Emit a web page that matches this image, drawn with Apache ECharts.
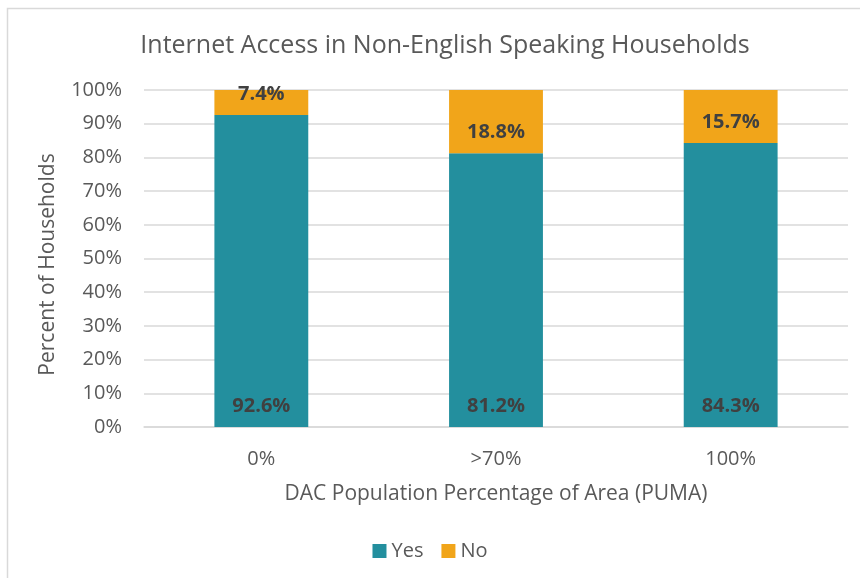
<!DOCTYPE html>
<html>
<head>
<meta charset="utf-8">
<script src="https://cdn.jsdelivr.net/npm/echarts@6/dist/echarts.min.js"></script>
<style>
  html, body { margin: 0; padding: 0; background: #fff; }
  #chart { width: 860px; height: 578px; }
</style>
</head>
<body>
<div id="chart"></div>
<script>
// data
const categories = ['0%', '>70%', '100%']
const yesValues = [92.6, 81.2, 84.3]
const noValues = [7.4, 18.8, 15.7]
const yTicks = [0, 10, 20, 30, 40, 50, 60, 70, 80, 90, 100]

const FONT = '"Open Sans", sans-serif'
const TEXT = '#595959'

const chart = echarts.init(document.getElementById('chart'), null, { renderer: 'canvas' })

const labelStyle = {
  show: true,
  position: 'insideBottom',
  distance: 11,
  fontFamily: FONT,
  fontSize: 20,
  fontWeight: 'bold',
  color: '#404040',
  formatter: p => p.value.toFixed(1) + '%'
}

const option = {
  backgroundColor: '#fff',
  animation: false,
  graphic: [{
    // chart frame, only top + left edges are visible in the original
    type: 'rect',
    shape: { x: 7.5, y: 8.5, width: 900, height: 620 },
    style: { fill: 'none', stroke: '#d9d9d9', lineWidth: 1.5 },
    silent: true
  }],
  title: {
    text: 'Internet Access in Non-English Speaking Households',
    left: 440,
    textAlign: 'center',
    top: 28,
    textStyle: { fontFamily: FONT, fontSize: 25, fontWeight: 'normal', color: TEXT }
  },
  legend: {
    bottom: 12,
    left: 'center',
    itemWidth: 14,
    itemHeight: 14,
    itemGap: 18,
    icon: 'rect',
    textStyle: { fontFamily: FONT, fontSize: 20, color: TEXT },
    data: ['Yes', 'No']
  },
  grid: { left: 144, right: 12, top: 90, bottom: 151, containLabel: false },
  xAxis: {
    type: 'category',
    data: categories,
    name: 'DAC Population Percentage of Area (PUMA)',
    nameLocation: 'middle',
    nameGap: 57,
    nameTextStyle: { fontFamily: FONT, fontSize: 21, color: TEXT },
    axisLine: { show: true, lineStyle: { color: '#d9d9d9', width: 1.5 } },
    axisTick: { show: false },
    axisLabel: { fontFamily: FONT, fontSize: 20, color: TEXT, margin: 22 }
  },
  yAxis: {
    type: 'value',
    min: 0,
    max: 100,
    interval: 10,
    name: 'Percent of Households',
    nameLocation: 'middle',
    nameGap: 85,
    nameTextStyle: { fontFamily: FONT, fontSize: 21, color: TEXT, padding: [0, 12, 0, 0] },
    axisLine: { show: false },
    axisTick: { show: false },
    axisLabel: {
      fontFamily: FONT, fontSize: 20, color: TEXT, margin: 22,
      formatter: v => yTicks.includes(v) ? v + '%' : ''
    },
    splitLine: { lineStyle: { color: '#d9d9d9', width: 1.5 } }
  },
  series: [
    {
      name: 'Yes',
      type: 'bar',
      stack: 'total',
      barWidth: '40%',
      data: yesValues,
      itemStyle: { color: '#238f9e' },
      label: labelStyle
    },
    {
      name: 'No',
      type: 'bar',
      stack: 'total',
      data: noValues,
      itemStyle: { color: '#f1a51a' },
      label: labelStyle
    }
  ]
}

chart.setOption(option)
</script>
</body>
</html>
